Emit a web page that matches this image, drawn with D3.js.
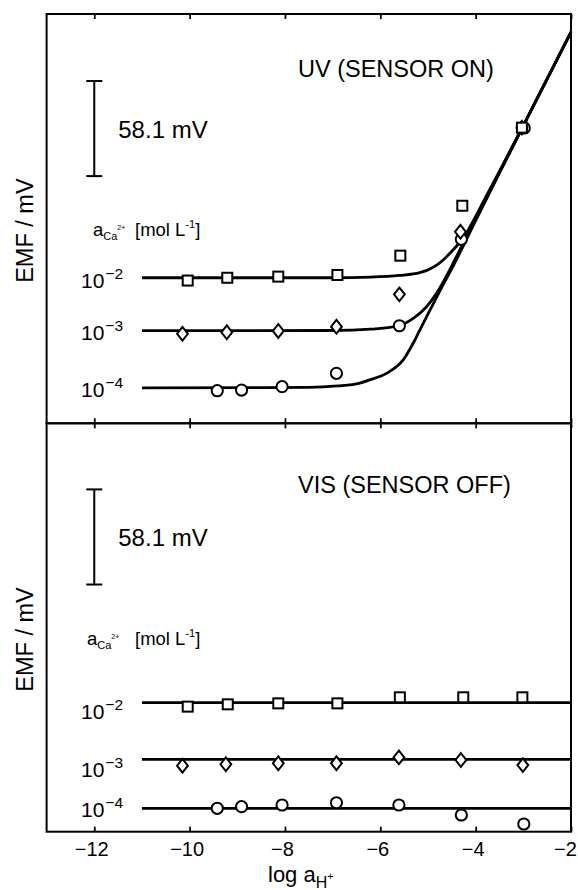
<!DOCTYPE html>
<html>
<head>
<meta charset="utf-8">
<script src="https://cdn.jsdelivr.net/npm/d3@7"></script>
<style>
  html, body { margin: 0; padding: 0; background: #fff; }
  svg { display: block; }
  text { font-family: "Liberation Sans", Arial, Helvetica, sans-serif; fill: #000; }
</style>
</head>
<body>
<svg id="chart" width="578" height="890"></svg>
<script>
// ---- data (EMF in mV, relative; x = log a_H+) ----
const xTicks = [-12, -10, -8, -6, -4, -2];
const caLevels = ["−2", "−3", "−4"];           // exponents of a_Ca2+ [mol L-1]
const scaleBarMV = 58.1;

// UV (sensor on): measured points
const onSquareX  = [-10.04, -9.21, -8.14, -6.90, -5.58, -4.28, -3.03];
const onSquareY  = [87.2, 88.9, 89.6, 90.6, 102.4, 132.9, 180.6];
const onDiamondX = [-10.15, -9.22, -8.14, -6.92, -5.60, -4.32, -3.03];
const onDiamondY = [54.7, 55.6, 56.4, 59.0, 78.8, 117.0, 180.6];
const onCircleX  = [-9.42, -8.91, -8.06, -6.92, -5.60, -4.30, -2.98];
const onCircleY  = [19.9, 20.3, 22.4, 30.5, 59.6, 112.4, 180.4];

// UV (sensor on): fitted response curves
const fit2 = [[-11,88.9],[-7,88.9],[-6.2,89.3],[-5.6,90.3],[-5.17,92],[-4.89,95.3],[-4.68,99.8],
              [-4.51,104.8],[-4.37,109.2],[-4.26,113],[-4.1,121],[-3.8,137.5],[-3.5,154],[-3,182],[-2,239]];
const fit3 = [[-11,56.6],[-7,56.7],[-6.2,57.5],[-5.61,59.6],[-5.31,64.1],[-5.03,71.2],[-4.82,79.4],
              [-4.61,90],[-4.4,102],[-4,125],[-3.5,153.3],[-3,181.8],[-2,239]];
const fit4 = [[-11,21.7],[-7.5,21.9],[-6.9,22.8],[-6.43,24.6],[-6.22,26.5],[-5.87,30.5],[-5.52,38.7],
              [-5.31,48.9],[-5.10,61.1],[-4.89,73.0],[-4.72,82.6],[-4.5,94.5],[-4,123.8],[-3.5,153],[-3,181.7],[-2,239]];

// VIS (sensor off): measured points
const offSquareX  = [-10.04, -9.20, -8.14, -6.90, -5.59, -4.26, -3.02];
const offSquareY  = [76.4, 77.8, 78.4, 78.4, 82.1, 82.1, 82.1];
const offDiamondX = [-10.15, -9.24, -8.14, -6.92, -5.61, -4.31, -3.01];
const offDiamondY = [40.3, 41.2, 41.8, 41.8, 45.4, 43.8, 40.7];
const offCircleX  = [-9.42, -8.91, -8.06, -6.92, -5.61, -4.30, -2.99];
const offCircleY  = [14.3, 15.3, 16.3, 17.7, 16.3, 10.2, 4.7];
// VIS (sensor off): fitted flat responses
const offLevels = [78.8, 44.2, 14.3];
const fitRange = [-11, -2];

// ---- layout ----
const svg = d3.select("#chart");
const L = 46.6, R = 571;
const panels = [
  { top: 14, bottom: 423.3, title: "UV (SENSOR ON)", titleY: 77.3,
    sq: [onSquareX, onSquareY], di: [onDiamondX, onDiamondY], ci: [onCircleX, onCircleY],
    fits: [fit2, fit3, fit4], labelDy: [10, 9.5, 9], caDx: 0 },
  { top: 423.3, bottom: 831.7, title: "VIS (SENSOR OFF)", titleY: 492.7,
    sq: [offSquareX, offSquareY], di: [offDiamondX, offDiamondY], ci: [offCircleX, offCircleY],
    fits: offLevels.map(v => fitRange.map(x => [x, v])), labelDy: [16.5, 17.5, 8.5], caDx: -6 }
];

const x = d3.scaleLinear().domain([-13, -2]).range([L, R]);

// diamond outline (half-width 5.4, half-height 6.8)
const diamondPath = d3.line().curve(d3.curveLinearClosed)([[0, -6.8], [5.4, 0], [0, 6.8], [-5.4, 0]]);

panels.forEach((p, pi) => {
  const y = d3.scaleLinear().domain([0, (p.bottom - p.top) / 1.637]).range([p.bottom, p.top]);
  const g = svg.append("g");

  // fitted curves
  const line = d3.line().x(d => x(d[0])).y(d => y(d[1])).curve(d3.curveMonotoneX);
  g.selectAll("path.fit").data(p.fits).join("path")
    .attr("class", "fit").attr("d", line)
    .attr("fill", "none").attr("stroke", "#000").attr("stroke-width", 2.8);

  // markers
  const mk = g.append("g").attr("fill", "#fff").attr("stroke", "#000").attr("stroke-width", 2);
  mk.selectAll("circle").data(d3.zip(...p.ci)).join("circle")
    .attr("cx", d => x(d[0])).attr("cy", d => y(d[1])).attr("r", 5.6);
  mk.selectAll("path.dia").data(d3.zip(...p.di)).join("path")
    .attr("class", "dia")
    .attr("transform", d => `translate(${x(d[0])},${y(d[1])})`)
    .attr("d", diamondPath);
  mk.selectAll("rect").data(d3.zip(...p.sq)).join("rect")
    .attr("x", d => x(d[0]) - 5).attr("y", d => y(d[1]) - 5)
    .attr("width", 10).attr("height", 10);

  // frame
  g.append("rect").attr("x", L).attr("y", p.top).attr("width", R - L).attr("height", p.bottom - p.top)
    .attr("fill", "none").attr("stroke", "#000").attr("stroke-width", 2);

  // inward ticks on top and bottom edges
  const topAxis = g.append("g").attr("transform", `translate(0,${p.top})`)
    .call(d3.axisTop(x).tickValues(xTicks).tickSize(-5).tickFormat(""));
  const botAxis = g.append("g").attr("transform", `translate(0,${p.bottom})`)
    .call(d3.axisBottom(x).tickValues(xTicks).tickSize(-5)
      .tickFormat(pi === 1 ? d3.format("d") : ""));
  [topAxis, botAxis].forEach(a => {
    a.select(".domain").remove();
    a.selectAll(".tick line").attr("stroke-width", 1.8);
  });
  botAxis.selectAll(".tick text")
    .attr("y", 24.5).attr("dy", 0)
    .attr("dx", d => d === -2 ? -6 : -3)
    .style("font-size", "20px").style("font-family", "'Liberation Sans', Arial, sans-serif");

  // scale bar
  const b0 = y(151), b1 = y(151 + scaleBarMV), bx = x(-12);
  const sb = g.append("g").attr("stroke", "#000").attr("stroke-width", 2);
  sb.append("line").attr("x1", bx).attr("x2", bx).attr("y1", b0).attr("y2", b1);
  sb.append("line").attr("x1", bx - 8).attr("x2", bx + 8).attr("y1", b0).attr("y2", b0);
  sb.append("line").attr("x1", bx - 8).attr("x2", bx + 8).attr("y1", b1).attr("y2", b1);
  g.append("text").attr("x", bx + 24).attr("y", (b0 + b1) / 2 + 9)
    .style("font-size", "24px").text(`${scaleBarMV} mV`);

  // panel title
  g.append("text").attr("x", 298).attr("y", p.titleY).style("font-size", "23.5px").text(p.title);

  // a_Ca2+ [mol L-1] heading
  const caY = p.top + 222;
  const ca = g.append("text").attr("x", 93 + p.caDx).attr("y", caY).style("font-size", "18.5px");
  ca.append("tspan").text("a");
  ca.append("tspan").attr("dy", 4).style("font-size", "11px").text("Ca");
  ca.append("tspan").attr("dy", -10).style("font-size", "7px").text("2+");
  ca.append("tspan").attr("dy", 6).attr("x", 135).text("[mol L");
  ca.append("tspan").attr("dy", -8).style("font-size", "11px").text("-1");
  ca.append("tspan").attr("dy", 8).text("]");

  // concentration labels next to each response
  p.fits.forEach((f, i) => {
    const t = g.append("text").attr("x", 81).attr("y", y(f[0][1]) + p.labelDy[i])
      .style("font-size", "21px");
    t.append("tspan").text("10");
    t.append("tspan").attr("dy", -9).attr("dx", 1).style("font-size", "15.5px").text(caLevels[i]);
  });

  // y-axis title
  g.append("text")
    .attr("transform", `translate(33,${(p.top + p.bottom) / 2 + 12}) rotate(-90)`)
    .attr("text-anchor", "middle").style("font-size", "23.5px").text("EMF / mV");
});

// x-axis title
const xt = svg.append("text").attr("x", 268).attr("y", 882).style("font-size", "22px");
xt.append("tspan").text("log a");
xt.append("tspan").attr("dy", 6).style("font-size", "16px").text("H");
xt.append("tspan").attr("dy", -8).style("font-size", "11px").text("+");
</script>
</body>
</html>
